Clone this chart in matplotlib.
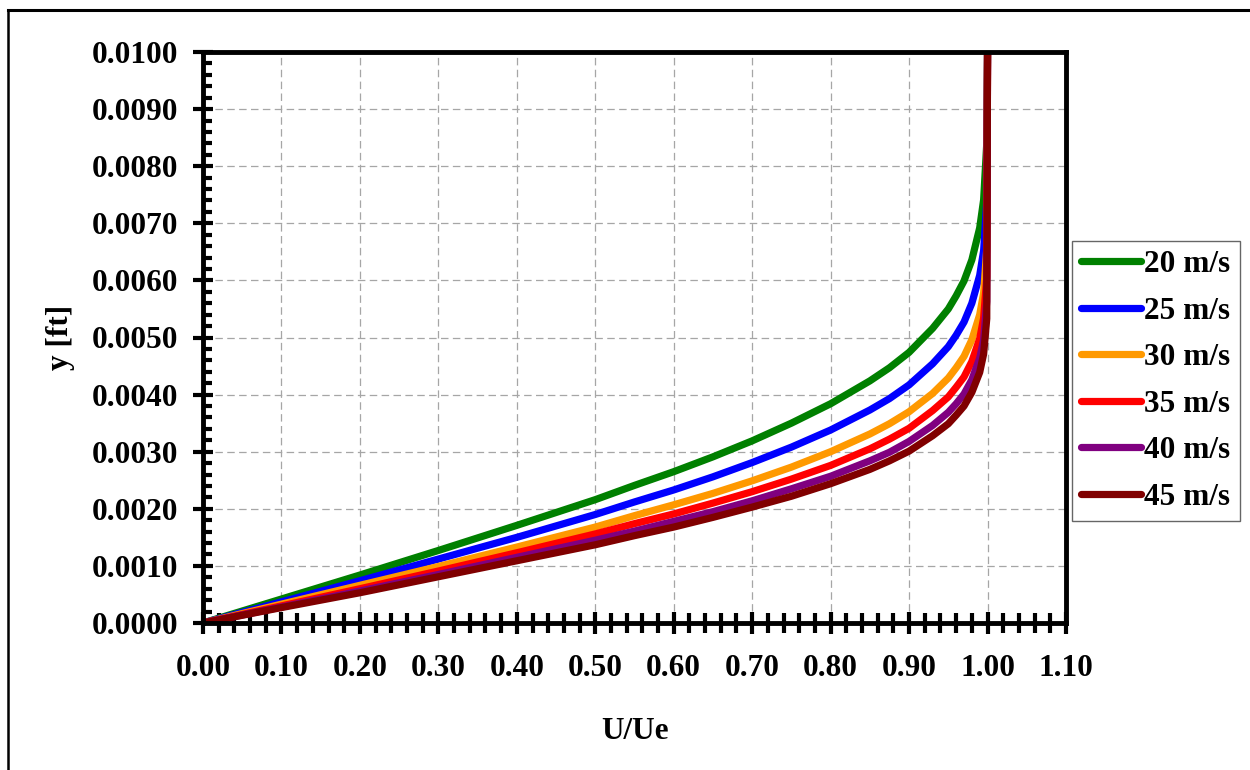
import numpy as np
import matplotlib
matplotlib.use('Agg')
import matplotlib.pyplot as plt
from matplotlib.ticker import MultipleLocator, FormatStrFormatter
from matplotlib.lines import Line2D

plt.rcParams['font.family'] = ['Liberation Serif', 'DejaVu Serif']
plt.rcParams['font.weight'] = 'bold'

# U/Ue values shared by all profiles
u_ratio = [0.0, 0.1, 0.2, 0.3, 0.4, 0.5, 0.55, 0.6, 0.65, 0.7, 0.75, 0.8, 0.85, 0.875, 0.9,
           0.93, 0.95, 0.96, 0.97, 0.98, 0.99, 0.995, 0.999, 1.0]

# y [ft] for each free-stream speed
y_20 = [0, 0.00042, 0.00084, 0.00127, 0.00171, 0.00216, 0.00241, 0.00265, 0.00291, 0.00319,
        0.00350, 0.00384, 0.00424, 0.00447, 0.00474, 0.00516, 0.00550, 0.00573, 0.00599,
        0.00636, 0.00692, 0.00741, 0.00840, 0.01000]
y_25 = [0, 0.00037, 0.00074, 0.00112, 0.00150, 0.00190, 0.00212, 0.00233, 0.00256, 0.00281,
        0.00308, 0.00338, 0.00373, 0.00393, 0.00417, 0.00454, 0.00484, 0.00504, 0.00527,
        0.00560, 0.00609, 0.00652, 0.00739, 0.01000]
y_30 = [0, 0.00033, 0.00066, 0.00099, 0.00133, 0.00168, 0.00188, 0.00207, 0.00227, 0.00249,
        0.00273, 0.00300, 0.00331, 0.00349, 0.00370, 0.00402, 0.00429, 0.00447, 0.00467,
        0.00496, 0.00540, 0.00578, 0.00655, 0.01000]
y_35 = [0, 0.00030, 0.00060, 0.00091, 0.00123, 0.00156, 0.00174, 0.00191, 0.00210, 0.00230,
        0.00252, 0.00276, 0.00305, 0.00322, 0.00341, 0.00372, 0.00396, 0.00413, 0.00431,
        0.00458, 0.00498, 0.00534, 0.00605, 0.01000]
y_40 = [0, 0.00028, 0.00056, 0.00085, 0.00115, 0.00145, 0.00161, 0.00178, 0.00195, 0.00214,
        0.00235, 0.00257, 0.00284, 0.00299, 0.00318, 0.00346, 0.00369, 0.00384, 0.00401,
        0.00426, 0.00464, 0.00496, 0.00563, 0.01000]
y_45 = [0, 0.00027, 0.00053, 0.00081, 0.00109, 0.00137, 0.00153, 0.00168, 0.00185, 0.00203,
        0.00222, 0.00244, 0.00269, 0.00284, 0.00301, 0.00328, 0.00349, 0.00364, 0.00380,
        0.00404, 0.00439, 0.00471, 0.00533, 0.01000]

labels = ['20 m/s', '25 m/s', '30 m/s', '35 m/s', '40 m/s', '45 m/s']
colors = ['#008000', '#0000FF', '#FF9900', '#FF0000', '#800080', '#800000']
profiles = [y_20, y_25, y_30, y_35, y_40, y_45]

W, H = 1250, 770
fig = plt.figure(figsize=(12.5, 7.7), dpi=100)
ax = fig.add_axes([203 / W, 1 - 623 / H, (1066 - 203) / W, (623 - 52) / H])

for y, c, lab in zip(profiles, colors, labels):
    ax.plot(u_ratio, y, color=c, lw=5.2, label=lab, solid_capstyle='round',
            solid_joinstyle='round', zorder=3)

ax.set_xlim(0, 1.1)
ax.set_ylim(0, 0.01)
ax.xaxis.set_major_locator(MultipleLocator(0.1))
ax.xaxis.set_minor_locator(MultipleLocator(0.02))
ax.yaxis.set_major_locator(MultipleLocator(0.001))
ax.yaxis.set_minor_locator(MultipleLocator(0.0002))
ax.xaxis.set_major_formatter(FormatStrFormatter('%.2f'))
ax.yaxis.set_major_formatter(FormatStrFormatter('%.4f'))

ax.grid(True, which='major', color='#A6A6A6', lw=0.9, linestyle=(0, (6, 3.5)), zorder=0)
for s in ax.spines.values():
    s.set_linewidth(3.5)
    s.set_zorder(4)

fs = 22.5
ax.tick_params(axis='x', which='major', direction='inout', length=16.5, width=3, pad=14, labelsize=fs)
ax.tick_params(axis='x', which='minor', direction='inout', length=14.4, width=3)
ax.tick_params(axis='y', which='major', direction='inout', length=13.7, width=3, pad=11, labelsize=fs)
ax.tick_params(axis='y', which='minor', direction='in', length=6.5, width=3)

ax.set_xlabel('U/Ue', fontsize=fs, fontweight='bold')
ax.set_ylabel('y [ft]', fontsize=fs, fontweight='bold')
ax.xaxis.set_label_coords(0.5, -0.165)
ax.yaxis.set_label_coords(-0.148, 0.5)

leg = fig.legend(loc='upper left', bbox_to_anchor=(1072 / W, 1 - 241 / H), borderaxespad=0,
                 fontsize=fs, handlelength=1.9, handletextpad=0.12, labelspacing=0.56,
                 borderpad=0.3, fancybox=False, frameon=True)
leg.get_frame().set_edgecolor('#404040')
leg.get_frame().set_linewidth(1.0)

# chart-area border (left and top only visible)
fig.add_artist(Line2D([8 / W, 8 / W], [0, 1 - 10 / H], transform=fig.transFigure, color='black', lw=1.8))
fig.add_artist(Line2D([8 / W, 1], [1 - 10 / H, 1 - 10 / H], transform=fig.transFigure, color='black', lw=2.2))

fig.savefig('out.png', dpi=100)
